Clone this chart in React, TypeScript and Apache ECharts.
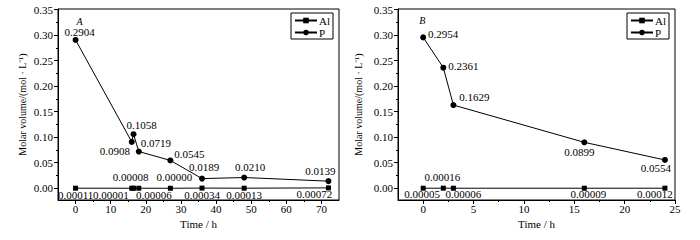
import React, { useEffect, useRef } from "react";
import * as echarts from "echarts";

// ---- Data (panel A) ----
const timeA = [0, 16, 16.5, 18, 27, 36, 48, 72];
const alA = [0.00011, 0.00001, 0.00008, 0.00006, 0.0, 0.00034, 0.00013, 0.00072];
const pA = [0.2904, 0.0908, 0.1058, 0.0719, 0.0545, 0.0189, 0.021, 0.0139];

// ---- Data (panel B) ----
const timeB = [0, 2, 3, 16, 24];
const alB = [0.00005, 0.00016, 0.00006, 0.00009, 0.00012];
const pB = [0.2954, 0.2361, 0.1629, 0.0899, 0.0554];

// ---- Tick values ----
const yMajor = [0, 0.05, 0.1, 0.15, 0.2, 0.25, 0.3, 0.35];
const yMinor = [0.025, 0.075, 0.125, 0.175, 0.225, 0.275, 0.325];
const xMajorA = [0, 10, 20, 30, 40, 50, 60, 70];
const xMinorA = [5, 15, 25, 35, 45, 55, 65];
const xMajorB = [0, 5, 10, 15, 20, 25];
const xMinorB = [2.5, 7.5, 12.5, 17.5, 22.5];

const seriesNames = ["Al", "P"];
const panelTags = ["A", "B"];
const yName = "Molar volume/(mol · L⁻¹)";
const xName = "Time / h";

// ---- Label offsets (styling, px, label centre relative to point) ----
const offAlA = [[0, 7], [-21, 7], [-3, -11], [15, 7], [4, -11], [0, 7], [0, 7], [-14, 6]];
const offPA = [[4, -8], [-17, 9.5], [8, -9.5], [17, -9], [19, -6], [2, -12], [6, -11], [-8, -10]];
const offAlB = [[-1, 6], [-1, -11.5], [10, 6], [4, 6], [-10, 6]];
const offPB = [[20, -3], [20, -2], [21, -8], [-5, 10], [-9, 8]];

const FONT = "Liberation Serif";
const Y_MIN = -0.023;
const Y_MAX = 0.351;

function mkData(t: number[], v: number[], off: number[][]) {
  return t.map((x, i) => ({
    value: [x, v[i]],
    label: { offset: off[i] },
  }));
}

export default function App() {
  const ref = useRef<HTMLDivElement>(null);
  useEffect(() => {
    document.body.style.margin = "0";
    if (!ref.current) return;
    const chart = echarts.init(ref.current, null, { renderer: "svg" });

    const grids = [
      { left: 58, top: 9, width: 281, height: 191 },
      { left: 398, top: 9, width: 277, height: 191 },
    ];

    const baseText = { color: "#000", fontFamily: FONT, fontSize: 11 };

    const mkMajorX = (gi: number, min: number, max: number, ticks: number[]) => ({
      type: "value",
      gridIndex: gi,
      position: "bottom",
      min,
      max,
      name: xName,
      nameLocation: "middle",
      nameGap: 13,
      nameTextStyle: { ...baseText, fontSize: 11 },
      axisLine: { show: true, onZero: false, lineStyle: { color: "#000", width: 1 } },
      axisTick: { show: true, inside: false, length: 4, customValues: ticks, lineStyle: { color: "#000" } },
      axisLabel: { show: true, margin: 3, customValues: ticks, ...baseText, formatter: (v: number) => String(v) },
      splitLine: { show: false },
    });
    const mkMinorX = (gi: number, min: number, max: number, ticks: number[]) => ({
      type: "value",
      gridIndex: gi,
      position: "bottom",
      min,
      max,
      axisLine: { show: false, onZero: false },
      axisTick: { show: true, inside: false, length: 2, customValues: ticks, lineStyle: { color: "#000" } },
      axisLabel: { show: false },
      splitLine: { show: false },
    });
    const mkMajorY = (gi: number, gap: number) => ({
      type: "value",
      gridIndex: gi,
      position: "left",
      min: Y_MIN,
      max: Y_MAX,
      name: yName,
      nameLocation: "middle",
      nameGap: gap,
      nameTextStyle: { ...baseText, fontSize: 10 },
      axisLine: { show: true, onZero: false, lineStyle: { color: "#000", width: 1 } },
      axisTick: { show: true, inside: false, length: 4, customValues: yMajor, lineStyle: { color: "#000" } },
      axisLabel: { show: true, margin: 5, customValues: yMajor, ...baseText, formatter: (v: number) => v.toFixed(2) },
      splitLine: { show: false },
    });
    const mkMinorY = (gi: number) => ({
      type: "value",
      gridIndex: gi,
      position: "left",
      min: Y_MIN,
      max: Y_MAX,
      axisLine: { show: false, onZero: false },
      axisTick: { show: true, inside: false, length: 2, customValues: yMinor, lineStyle: { color: "#000" } },
      axisLabel: { show: false },
      splitLine: { show: false },
    });

    const lineSeries = (
      name: string,
      xi: number,
      yi: number,
      data: any[],
      symbol: string,
      size: number,
      digits: number,
      tag?: { text: string; coord: number[]; offset: number[] }
    ) => ({
      type: "line",
      name,
      xAxisIndex: xi,
      yAxisIndex: yi,
      data,
      symbol,
      symbolSize: size,
      showSymbol: true,
      lineStyle: { color: "#000", width: 1 },
      itemStyle: { color: "#000" },
      label: {
        show: true,
        position: "inside",
        ...baseText,
        formatter: (p: any) => Number(p.value[1]).toFixed(digits),
      },
      emphasis: { disabled: true },
      z: name === "P" ? 3 : 2,
      markPoint: tag
        ? {
            symbol: "circle",
            symbolSize: 1,
            itemStyle: { color: "rgba(0,0,0,0)" },
            label: {
              show: true,
              position: "inside",
              formatter: tag.text,
              ...baseText,
              fontSize: 10,
              fontStyle: "italic",
              offset: tag.offset,
            },
            data: [{ coord: tag.coord }],
          }
        : undefined,
    });

    const legendBase = {
      orient: "vertical",
      top: 13,
      padding: [2, 3, 1, 3],
      itemGap: 1,
      itemWidth: 22,
      itemHeight: 7,
      borderColor: "#000",
      borderWidth: 1,
      borderRadius: 0,
      backgroundColor: "#fff",
      textStyle: { ...baseText, fontSize: 11, lineHeight: 10, padding: [0, 0, 0, -3] },
      data: seriesNames,
      selectedMode: false,
    };

    chart.setOption({
      animation: false,
      backgroundColor: "#fff",
      grid: grids.map((g) => ({
        ...g,
        show: true,
        borderColor: "#000",
        borderWidth: 1,
        backgroundColor: "transparent",
        containLabel: false,
        outerBoundsMode: "none",
      })),
      legend: [
        { ...legendBase, right: 700 - 333 },
        { ...legendBase, right: 700 - 669 },
      ],
      xAxis: [
        mkMajorX(0, -5, 75, xMajorA),
        mkMinorX(0, -5, 75, xMinorA),
        mkMajorX(1, -2.5, 25, xMajorB),
        mkMinorX(1, -2.5, 25, xMinorB),
      ],
      yAxis: [mkMajorY(0, 31), mkMinorY(0), mkMajorY(1, 35), mkMinorY(1)],
      series: [
        lineSeries(seriesNames[0], 0, 0, mkData(timeA, alA, offAlA), "rect", 5, 5),
        lineSeries(seriesNames[1], 0, 0, mkData(timeA, pA, offPA), "circle", 6, 4, {
          text: panelTags[0],
          coord: [timeA[0], pA[0]],
          offset: [4, -18.5],
        }),
        lineSeries(seriesNames[0], 2, 2, mkData(timeB, alB, offAlB), "rect", 5, 5),
        lineSeries(seriesNames[1], 2, 2, mkData(timeB, pB, offPB), "circle", 6, 4, {
          text: panelTags[1],
          coord: [timeB[0], pB[0]],
          offset: [-1, -17],
        }),
      ],
    });

    return () => chart.dispose();
  }, []);

  return (
    <div
      ref={ref}
      style={{ position: "absolute", left: 0, top: 0, width: 700, height: 240 }}
    />
  );
}
